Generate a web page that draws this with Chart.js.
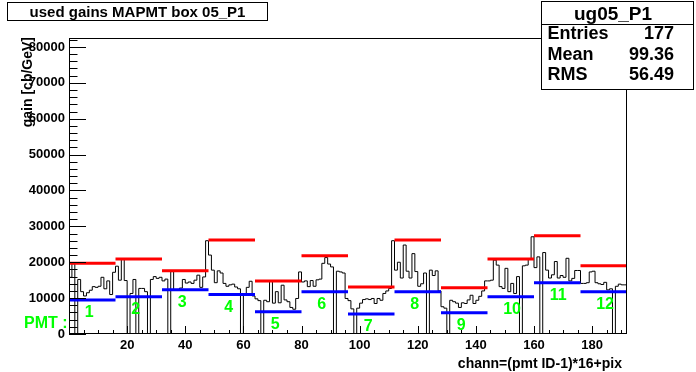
<!DOCTYPE html>
<html><head><meta charset="utf-8">
<script src="https://cdn.jsdelivr.net/npm/chart.js@4.4.1/dist/chart.umd.min.js"></script>
<style>html,body{margin:0;padding:0;background:#fff;}canvas{display:block;}</style>
</head><body>
<canvas id="c" width="696" height="372"></canvas>
<script>
// ---- data ----
const histTitle = 'used gains MAPMT box 05_P1';
const statsName = 'ug05_P1';
const statsLabels = ['Entries', 'Mean', 'RMS'];
const statsValues = ['177', '99.36', '56.49'];
const xTitle = 'chann=(pmt ID-1)*16+pix';
const yTitle = 'gain [cb/GeV]';
const pmtPrefix = 'PMT :';
const pmtLabels = ['1','2','3','4','5','6','7','8','9','10','11','12'];
const pixPerPmt = 16;
const xTickValues = [20, 40, 60, 80, 100, 120, 140, 160, 180];
const yTickValues = [0, 10000, 20000, 30000, 40000, 50000, 60000, 70000, 80000];
const xRange = [0, 192];
const yRange = [0, 82500];

const gainsPmt1  = [13600, 15800, 19600, 0, 15200, 11800, 10600, 11500, 12200, 13200, 13000, 13300, 15800, 12600, 14800, 11000];
const gainsPmt2  = [17200, 18900, 15000, 20800, 14900, 0, 11300, 15200, 0, 12700, 12700, 11800, 0, 15200, 16000, 15500];
const gainsPmt3  = [15800, 14800, 15300, 0, 17400, 12300, 12200, 12800, 15200, 14200, 14500, 14100, 15000, 16400, 13000, 15900];
const gainsPmt4  = [26000, 22000, 17800, 14300, 17600, 17000, 14100, 13300, 13700, 13900, 13100, 12600, 0, 10900, 13000, 14700];
const gainsPmt5  = [10600, 9800, 9300, 0, 9400, 9000, 14700, 8600, 11800, 8700, 13600, 9500, 9000, 7400, 6900, 9900];
const gainsPmt6  = [17300, 14500, 14800, 13200, 14900, 13300, 15100, 15300, 19700, 21300, 19500, 18700, 0, 17500, 17300, 17000];
const gainsPmt7  = [9900, 9300, 7000, 0, 7200, 8600, 9600, 9800, 9600, 9900, 8500, 9900, 9400, 11300, 12000, 12700];
const gainsPmt8  = [26000, 17800, 20000, 15600, 24800, 17500, 15600, 22400, 17400, 13300, 14000, 17000, 0, 17800, 16300, 17600];
const gainsPmt9  = [12000, 7600, 7200, 0, 9400, 9000, 8600, 7400, 8700, 8500, 9500, 10800, 8500, 9400, 10500, 12000];
const gainsPmt10 = [14800, 14800, 15000, 20600, 19200, 13200, 12700, 18300, 11800, 14100, 11300, 16000, 0, 19000, 19200, 20800];
const gainsPmt11 = [27100, 18500, 21500, 0, 22700, 17800, 15600, 16500, 20200, 15600, 16300, 15800, 21100, 14800, 15500, 17700];
const gainsPmt12 = [17700, 14100, 14100, 14300, 17300, 17500, 14300, 14000, 13800, 14400, 12300, 12600, 0, 13300, 13900, 13700];

const upperLevels = [19700, 20900, 17600, 26200, 14800, 21800, 13100, 26200, 12900, 20900, 27400, 19000];
const lowerLevels = [9500, 10400, 12300, 11000, 6200, 11800, 5600, 11800, 5900, 10400, 14300, 11800];

// ---- build library data ----
const gains = [].concat(gainsPmt1, gainsPmt2, gainsPmt3, gainsPmt4, gainsPmt5, gainsPmt6,
  gainsPmt7, gainsPmt8, gainsPmt9, gainsPmt10, gainsPmt11, gainsPmt12);
const histPoints = gains.map((v, i) => ({x: i, y: v}));
histPoints.push({x: gains.length, y: gains[gains.length - 1]});

function levelPoints(levels) {
  const pts = [];
  levels.forEach((v, k) => {
    pts.push({x: k * pixPerPmt, y: v});
    pts.push({x: (k + 1) * pixPerPmt, y: v});
    pts.push({x: (k + 1) * pixPerPmt, y: null});
  });
  return pts;
}

const FONT = '"Liberation Sans", Arial, Helvetica, sans-serif';
const GREEN = '#00ff00';

const decor = {
  id: 'decor',
  afterDatasetsDraw(chart) {
    const ctx = chart.ctx, xs = chart.scales.x, ys = chart.scales.y, a = chart.chartArea;
    ctx.save();
    ctx.strokeStyle = '#000';
    ctx.lineWidth = 1;
    ctx.beginPath();
    // y ticks (inside, from left frame)
    const yStep = yTickValues[1] - yTickValues[0];
    for (let v = 0; v <= yRange[1]; v += yStep / 5) {
      const p = Math.round(ys.getPixelForValue(v)) + 0.5;
      const major = Math.abs(v / yStep - Math.round(v / yStep)) < 1e-6;
      ctx.moveTo(a.left, p); ctx.lineTo(a.left + (major ? 17 : 8.5), p);
    }
    // x ticks (inside, from bottom frame)
    const xStep = xTickValues[1] - xTickValues[0];
    for (let v = 0; v <= xRange[1]; v += xStep / 4) {
      const p = Math.round(xs.getPixelForValue(v)) + 0.5;
      const major = Math.abs(v / xStep - Math.round(v / xStep)) < 1e-6;
      ctx.moveTo(p, a.bottom); ctx.lineTo(p, a.bottom - (major ? 8 : 4));
    }
    ctx.stroke();
    // frame
    ctx.strokeRect(Math.round(a.left) + 0.5, Math.round(a.top) + 0.5,
                   Math.round(a.right - a.left) - 1, Math.round(a.bottom - a.top) - 1);
    // green PMT numbers under each lower line
    ctx.fillStyle = GREEN;
    ctx.font = 'bold 16px ' + FONT;
    ctx.textAlign = 'left';
    ctx.textBaseline = 'middle';
    pmtLabels.forEach((t, k) => {
      ctx.fillText(t, xs.getPixelForValue(k * pixPerPmt + 5.4), ys.getPixelForValue(lowerLevels[k]) + 13);
    });
    ctx.textBaseline = 'alphabetic';
    ctx.fillText(pmtPrefix, 24, 328);
    ctx.restore();
  },
  afterDraw(chart) {
    const ctx = chart.ctx;
    ctx.save();
    ctx.fillStyle = '#000';
    ctx.strokeStyle = '#000';
    ctx.lineWidth = 1;
    // axis titles
    ctx.font = 'bold 14px ' + FONT;
    ctx.textAlign = 'right';
    ctx.textBaseline = 'alphabetic';
    ctx.fillText(xTitle, 622, 368);
    ctx.save();
    ctx.translate(32, 37);
    ctx.rotate(-Math.PI / 2);
    ctx.fillText(yTitle, 0, 0);
    ctx.restore();
    // title box
    ctx.fillStyle = '#fff';
    ctx.fillRect(7, 2, 261, 19);
    ctx.strokeRect(7.5, 2.5, 260, 18);
    ctx.fillStyle = '#000';
    ctx.font = 'bold 15px ' + FONT;
    ctx.textAlign = 'center';
    ctx.fillText(histTitle, 137.5, 16.5);
    // stats box
    ctx.fillStyle = '#fff';
    ctx.fillRect(541, 1, 153, 89);
    ctx.strokeRect(541.5, 1.5, 152, 88);
    ctx.beginPath(); ctx.moveTo(541.5, 24.5); ctx.lineTo(693.5, 24.5); ctx.stroke();
    ctx.fillStyle = '#000';
    ctx.font = 'bold 19px ' + FONT;
    ctx.textAlign = 'center';
    ctx.fillText(statsName, 613, 19.5);
    ctx.font = 'bold 18px ' + FONT;
    const baselines = [39, 59.5, 80];
    statsLabels.forEach((t, i) => {
      ctx.textAlign = 'left';
      ctx.fillText(t, 547.5, baselines[i]);
      ctx.textAlign = 'right';
      ctx.fillText(statsValues[i], 674, baselines[i]);
    });
    ctx.restore();
  }
};

new Chart(document.getElementById('c'), {
  type: 'line',
  data: {
    datasets: [
      {data: histPoints, borderColor: '#000', borderWidth: 1, stepped: 'after', pointRadius: 0, fill: false, order: 3},
      {data: levelPoints(upperLevels), borderColor: '#ff0000', borderWidth: 3, pointRadius: 0, spanGaps: false, fill: false, order: 1},
      {data: levelPoints(lowerLevels), borderColor: '#0000ff', borderWidth: 3, pointRadius: 0, spanGaps: false, fill: false, order: 2}
    ]
  },
  options: {
    responsive: false,
    animation: false,
    devicePixelRatio: 1,
    layout: {padding: {top: 38, right: 69, left: 0, bottom: 0}},
    plugins: {legend: {display: false}, tooltip: {enabled: false}, title: {display: false}},
    scales: {
      x: {
        type: 'linear', min: xRange[0], max: xRange[1],
        grid: {display: false, drawTicks: false},
        border: {display: false},
        afterBuildTicks: s => { s.ticks = xTickValues.map(v => ({value: v})); },
        afterFit: s => { s.height = 38; },
        ticks: {color: '#000', font: {family: FONT, size: 13, weight: 'bold'}, padding: 4, maxRotation: 0, autoSkip: false,
                callback: v => String(v)}
      },
      y: {
        type: 'linear', min: yRange[0], max: yRange[1],
        grid: {display: false, drawTicks: false},
        border: {display: false},
        afterBuildTicks: s => { s.ticks = yTickValues.map(v => ({value: v})); },
        afterFit: s => { s.width = 69; },
        ticks: {color: '#000', font: {family: FONT, size: 13, weight: 'bold'}, padding: 4, autoSkip: false,
                callback: v => String(v)}
      }
    }
  },
  plugins: [decor]
});
</script>
</body></html>
